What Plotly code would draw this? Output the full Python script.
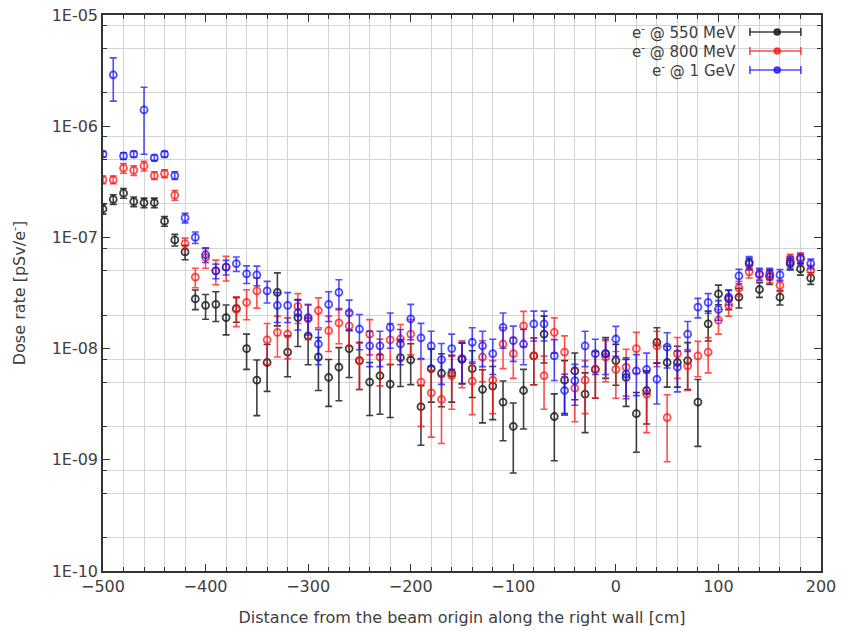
import plotly.graph_objects as go

# ---------------- data ----------------
x_cm = [-500, -490, -480, -470, -460, -450, -440, -430, -420, -410,
        -400, -390, -380, -370, -360, -350, -340, -330, -320, -310,
        -300, -290, -280, -270, -260, -250, -240, -230, -220, -210,
        -200, -190, -180, -170, -160, -150, -140, -130, -120, -110,
        -100, -90, -80, -70, -60, -50, -40, -30, -20, -10,
        0, 10, 20, 30, 40, 50, 60, 70, 80, 90,
        100, 110, 120, 130, 140, 150, 160, 170, 180, 190]

dose_550 = [1.8e-7, 2.2e-7, 2.5e-7, 2.1e-7, 2.05e-7, 2.05e-7, 1.4e-7, 9.5e-8, 7.4e-8, 2.8e-8,
            2.45e-8, 2.5e-8, 1.9e-8, 2.3e-8, 1.0e-8, 5.2e-9, 7.5e-9, 3.2e-8, 9.3e-9, 1.9e-8,
            1.3e-8, 8.4e-9, 5.5e-9, 6.8e-9, 1.0e-8, 7.8e-9, 5.0e-9, 5.7e-9, 4.8e-9, 8.3e-9,
            7.9e-9, 3.0e-9, 6.6e-9, 6.0e-9, 6.0e-9, 8.0e-9, 6.6e-9, 4.3e-9, 4.6e-9, 3.3e-9,
            2.0e-9, 4.2e-9, 8.6e-9, 1.35e-8, 2.45e-9, 5.2e-9, 6.3e-9, 3.9e-9, 6.5e-9, 9.0e-9,
            7.8e-9, 5.5e-9, 2.6e-9, 4.2e-9, 1.14e-8, 7.5e-9, 7.5e-9, 7.8e-9, 3.3e-9, 1.67e-8,
            3.1e-8, 2.8e-8, 2.9e-8, 5.8e-8, 3.4e-8, 4.45e-8, 2.9e-8, 5.8e-8, 5.2e-8, 4.3e-8]
relerr_550 = [0.1, 0.1, 0.1, 0.1, 0.1, 0.1, 0.1, 0.12, 0.15, 0.2,
              0.25, 0.3, 0.3, 0.25, 0.35, 0.52, 0.45, 0.5, 0.4, 0.45,
              0.45, 0.5, 0.45, 0.5, 0.45, 0.45, 0.5, 0.55, 0.5, 0.45,
              0.4, 0.55, 0.5, 0.5, 0.45, 0.4, 0.45, 0.5, 0.5, 0.55,
              0.62, 0.55, 0.45, 0.45, 0.6, 0.5, 0.45, 0.55, 0.45, 0.4,
              0.4, 0.45, 0.55, 0.5, 0.35, 0.4, 0.4, 0.45, 0.6, 0.3,
              0.2, 0.2, 0.2, 0.12, 0.15, 0.15, 0.15, 0.12, 0.12, 0.12]

dose_800 = [3.3e-7, 3.3e-7, 4.2e-7, 4.0e-7, 4.4e-7, 3.6e-7, 3.75e-7, 2.4e-7, 8.8e-8, 4.4e-8,
            6.6e-8, 5.0e-8, 5.4e-8, 2.25e-8, 2.6e-8, 3.3e-8, 1.2e-8, 1.4e-8, 1.35e-8, 2.4e-8,
            1.85e-8, 2.2e-8, 1.45e-8, 1.7e-8, 1.6e-8, 7.8e-9, 1.35e-8, 8.4e-9, 1.2e-8, 1.22e-8,
            1.35e-8, 5.0e-9, 4.0e-9, 3.5e-9, 5.7e-9, 8.1e-9, 5.1e-9, 8.4e-9, 5.2e-9, 1.1e-8,
            9.0e-9, 1.6e-8, 8.6e-9, 5.7e-9, 1.4e-8, 9.3e-9, 4.4e-9, 5.2e-9, 6.5e-9, 8.4e-9,
            6.5e-9, 6.8e-9, 1.0e-8, 3.9e-9, 1.06e-8, 2.4e-9, 9.0e-9, 7.0e-9, 8.6e-9, 9.3e-9,
            1.8e-8, 2.45e-8, 3.5e-8, 4.9e-8, 4.6e-8, 4.45e-8, 3.7e-8, 6.4e-8, 6.6e-8, 5.1e-8]
relerr_800 = [0.08, 0.08, 0.1, 0.1, 0.1, 0.08, 0.08, 0.1, 0.12, 0.2,
              0.2, 0.25, 0.25, 0.3, 0.3, 0.3, 0.4, 0.4, 0.4, 0.3,
              0.35, 0.3, 0.35, 0.35, 0.35, 0.45, 0.35, 0.45, 0.4, 0.35,
              0.35, 0.6, 0.6, 0.6, 0.5, 0.45, 0.5, 0.4, 0.5, 0.4,
              0.4, 0.35, 0.45, 0.5, 0.35, 0.4, 0.5, 0.5, 0.45, 0.4,
              0.45, 0.45, 0.4, 0.55, 0.35, 0.6, 0.4, 0.4, 0.35, 0.35,
              0.25, 0.2, 0.15, 0.12, 0.12, 0.12, 0.12, 0.1, 0.1, 0.1]

dose_1000 = [5.6e-7, 2.9e-6, 5.4e-7, 5.6e-7, 1.4e-6, 5.2e-7, 5.6e-7, 3.6e-7, 1.5e-7, 1.0e-7,
             7.0e-8, 5.0e-8, 5.4e-8, 5.8e-8, 4.7e-8, 4.6e-8, 3.3e-8, 2.45e-8, 2.45e-8, 2.1e-8,
             1.9e-8, 1.1e-8, 2.5e-8, 3.2e-8, 2.1e-8, 1.5e-8, 1.06e-8, 1.06e-8, 1.55e-8, 1.1e-8,
             1.85e-8, 1.25e-8, 1.06e-8, 7.95e-9, 1.0e-8, 8.1e-9, 1.14e-8, 1.06e-8, 9.0e-9, 1.55e-8,
             1.18e-8, 1.1e-8, 1.67e-8, 1.67e-8, 8.6e-9, 4.2e-9, 5.15e-9, 1.06e-8, 9.0e-9, 9.0e-9,
             1.22e-8, 5.9e-9, 6.3e-9, 6.5e-9, 5.3e-9, 1.03e-8, 6.8e-9, 1.35e-8, 2.36e-8, 2.6e-8,
             2.25e-8, 2.9e-8, 4.5e-8, 6.0e-8, 4.7e-8, 4.7e-8, 4.6e-8, 6.0e-8, 6.4e-8, 5.8e-8]
relerr_1000 = [0.06, 0.42, 0.07, 0.06, 0.6, 0.06, 0.06, 0.08, 0.1, 0.12,
               0.15, 0.15, 0.15, 0.15, 0.18, 0.2, 0.22, 0.3, 0.3, 0.3,
               0.3, 0.35, 0.3, 0.3, 0.3, 0.35, 0.35, 0.35, 0.35, 0.35,
               0.35, 0.35, 0.35, 0.4, 0.35, 0.4, 0.35, 0.35, 0.35, 0.35,
               0.35, 0.35, 0.3, 0.3, 0.4, 0.4, 0.4, 0.35, 0.35, 0.35,
               0.3, 0.4, 0.4, 0.4, 0.4, 0.35, 0.4, 0.3, 0.2, 0.2,
               0.2, 0.15, 0.15, 0.12, 0.12, 0.12, 0.12, 0.12, 0.1, 0.1]

series_names = ["e<sup>-</sup> @ 550 MeV", "e<sup>-</sup> @ 800 MeV", "e<sup>-</sup> @ 1 GeV"]
series_colors = ["rgba(30,30,30,0.85)", "rgba(255,20,20,0.75)", "rgba(20,20,255,0.75)"]

y_tick_vals = [1e-10, 1e-9, 1e-8, 1e-7, 1e-6, 1e-5]
y_tick_text = ["1E-10", "1E-09", "1E-08", "1E-07", "1E-06", "1E-05"]
y_minor_vals = [m * 10.0 ** e for e in range(-10, -5) for m in (2, 5, 8)]

for arr in (dose_550, relerr_550, dose_800, relerr_800, dose_1000, relerr_1000):
    assert len(arr) == len(x_cm), len(arr)

# ---------------- figure ----------------
FONT = "DejaVu Sans"
TXT = "#404040"
FS = 16
fig = go.Figure()

series = [(dose_550, relerr_550), (dose_800, relerr_800), (dose_1000, relerr_1000)]
for (vals, rel), name, col in zip(series, series_names, series_colors):
    errs = [v * r for v, r in zip(vals, rel)]
    fig.add_trace(go.Scatter(
        x=x_cm, y=vals, mode="markers", name=name,
        marker=dict(symbol="circle-open", size=7, color=col, line=dict(width=1.8, color=col)),
        error_y=dict(type="data", array=errs, visible=True, color=col, thickness=1.6, width=3.5),
        showlegend=False,
    ))

# custom legend (text left, sample right, like gnuplot)
leg_text_x = 0.884
leg_x0, leg_x1, leg_xm = 0.901, 0.972, 0.939
leg_rows = [0.9694, 0.9353, 0.9011]
for name, col, yy in zip(series_names, series_colors, leg_rows):
    fig.add_annotation(x=leg_text_x, y=yy, xref="paper", yref="paper", text=name,
                       showarrow=False, xanchor="right", yanchor="middle",
                       font=dict(family=FONT, size=15, color=TXT))
    fig.add_shape(type="line", xref="paper", yref="paper", x0=leg_x0, x1=leg_x1, y0=yy, y1=yy,
                  line=dict(color=col, width=1.6))
    for xc in (leg_x0, leg_x1):
        fig.add_shape(type="line", xref="paper", yref="paper", xsizemode="pixel", ysizemode="pixel",
                      xanchor=xc, yanchor=yy, x0=0, x1=0, y0=-4, y1=4,
                      line=dict(color=col, width=1.6))
    fig.add_shape(type="circle", xref="paper", yref="paper", xsizemode="pixel", ysizemode="pixel",
                  xanchor=leg_xm, yanchor=yy, x0=-3, x1=3, y0=-3, y1=3,
                  line=dict(color=col, width=1.6), fillcolor=col)

fig.update_xaxes(
    range=[-500, 200], dtick=100, tick0=0, automargin=False,
    showline=True, mirror="allticks", linecolor="#333", linewidth=1.5,
    ticks="inside", ticklen=7, tickwidth=1.2, tickcolor="#333",
    showgrid=False, zeroline=False,
    minor=dict(dtick=20, tick0=0, ticks="inside", ticklen=4, tickcolor="#333",
               showgrid=True, gridcolor="#d4d4d4", gridwidth=1),
    tickfont=dict(family=FONT, size=FS, color=TXT),
    title=dict(text="Distance from the beam origin along the right wall [cm]",
               font=dict(family=FONT, size=FS, color=TXT), standoff=17),
)
fig.update_yaxes(
    type="log", range=[-10, -5], automargin=False,
    tickmode="array", tickvals=y_tick_vals, ticktext=y_tick_text,
    showline=True, mirror="allticks", linecolor="#333", linewidth=1.5,
    ticks="inside", ticklen=7, tickwidth=1.2, tickcolor="#333",
    showgrid=False, zeroline=False,
    minor=dict(tickmode="array", tickvals=y_minor_vals, ticks="inside", ticklen=4, tickcolor="#333",
               showgrid=True, gridcolor="#d4d4d4", gridwidth=1),
    tickfont=dict(family=FONT, size=FS, color=TXT),
    title=dict(text="Dose rate [pSv/e<sup>-</sup>]",
               font=dict(family=FONT, size=FS, color=TXT), standoff=22),
)
fig.update_layout(
    width=842, height=630,
    margin=dict(l=103, r=21, t=15, b=59),
    paper_bgcolor="white", plot_bgcolor="white",
    font=dict(family=FONT, size=FS, color=TXT),
)
# remove the default page body margin so the figure fills the window exactly
fig.write_html("out.html", config={"displayModeBar": False},
               post_script="document.body.style.margin='0';")
